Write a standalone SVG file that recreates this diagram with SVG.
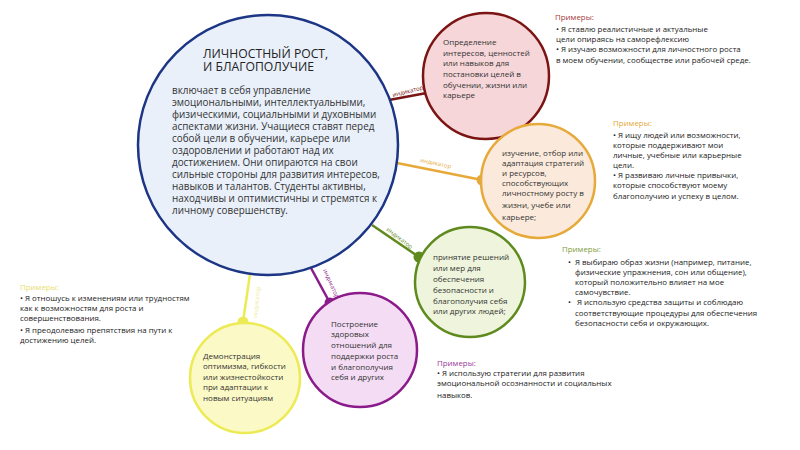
<svg xmlns="http://www.w3.org/2000/svg" width="800" height="450" viewBox="0 0 800 450">
<style>
text{font-family:"Open Sans","Noto Sans","DejaVu Sans",sans-serif;fill:#333}
.body{font-size:9.9px}
.title{font-size:12.2px;fill:#222}
.small{font-size:8px}
.ex{font-size:7.9px;fill:#222}
.ind{font-size:6px}
.conn line{stroke-width:2.5}
</style>
<rect width="800" height="450" fill="#ffffff"/>
<g id="connectors" class="conn">
  <line x1="389" y1="100" x2="432" y2="92" stroke="#7b1414"/>
  <circle cx="432" cy="92" r="5.5" fill="#7b1414"/>
  <text class="ind" style="fill:#7b1414" transform="translate(393,97) rotate(-14)">индикатор</text>
  <line x1="397" y1="163" x2="482" y2="180" stroke="#e6a93a"/>
  <circle cx="482" cy="180" r="5.5" fill="#e6a93a"/>
  <text class="ind" style="fill:#e6a93a" transform="translate(420,162) rotate(12)">индикатор</text>
  <line x1="372" y1="225" x2="419" y2="257" stroke="#5f8a1e"/>
  <circle cx="419" cy="257" r="5.5" fill="#5f8a1e"/>
  <text class="ind" style="fill:#5f8a1e" transform="translate(386,230) rotate(38)">индикатор</text>
  <line x1="311" y1="268" x2="330" y2="303" stroke="#8b1a8b"/>
  <circle cx="330" cy="303" r="5.5" fill="#8b1a8b"/>
  <text class="ind" style="fill:#8b1a8b" transform="translate(323,270) rotate(66)">индикатор</text>
  <line x1="250" y1="274" x2="243" y2="322" stroke="#eceb55"/>
  <circle cx="243" cy="322" r="5.5" fill="#eceb55"/>
  <text class="ind" style="fill:#efeda0" transform="translate(257,318) rotate(-84)">индикатор</text>
</g>
<g id="main">
  <circle cx="268" cy="145" r="130" fill="#e9f0fa" stroke="#1c3584" stroke-width="2.5"/>
  <text class="title" x="203" y="58">ЛИЧНОСТНЫЙ РОСТ,</text>
  <text class="title" x="203" y="71">И БЛАГОПОЛУЧИЕ</text>
  <text class="body" x="172" y="94">включает в себя управление</text>
  <text class="body" x="172" y="106">эмоциональными, интеллектуальными,</text>
  <text class="body" x="172" y="118">физическими, социальными и духовными</text>
  <text class="body" x="172" y="130">аспектами жизни. Учащиеся ставят перед</text>
  <text class="body" x="172" y="142">собой цели в обучении, карьере или</text>
  <text class="body" x="172" y="154">оздоровлении и работают над их</text>
  <text class="body" x="172" y="166">достижением. Они опираются на свои</text>
  <text class="body" x="172" y="178">сильные стороны для развития интересов,</text>
  <text class="body" x="172" y="190">навыков и талантов. Студенты активны,</text>
  <text class="body" x="172" y="202">находчивы и оптимистичны и стремятся к</text>
  <text class="body" x="172" y="214">личному совершенству.</text>
</g>
<g id="node-red">
  <circle cx="486" cy="76" r="63" fill="#f6d6d8" stroke="#7b1414" stroke-width="2.5"/>
  <text class="small" x="443" y="45">Определение</text>
  <text class="small" x="443" y="56">интересов, ценностей</text>
  <text class="small" x="443" y="66">или навыков для</text>
  <text class="small" x="443" y="77">постановки целей в</text>
  <text class="small" x="443" y="88">обучении, жизни или</text>
  <text class="small" x="443" y="98">карьере</text>
</g>
<g id="examples-red">
  <text class="ex" x="555" y="20" style="fill:#a23a3a">Примеры:</text>
  <text class="ex" x="556" y="32">• Я ставлю реалистичные и актуальные</text>
  <text class="ex" x="556" y="42"> цели опираясь на саморефлексию</text>
  <text class="ex" x="556" y="52">• Я изучаю возможности для личностного роста</text>
  <text class="ex" x="556" y="63">в моем обучении, сообществе или рабочей среде.</text>
</g>
<g id="node-orange">
  <circle cx="538" cy="181" r="57" fill="#fbeadb" stroke="#e6a93a" stroke-width="2.5"/>
  <text class="small" x="502" y="156">изучение, отбор или</text>
  <text class="small" x="502" y="166">адаптация стратегий</text>
  <text class="small" x="502" y="176">и ресурсов,</text>
  <text class="small" x="502" y="186">способствующих</text>
  <text class="small" x="502" y="196">личностному росту в</text>
  <text class="small" x="502" y="208">жизни, учебе или</text>
  <text class="small" x="502" y="220">карьере;</text>
</g>
<g id="examples-orange">
  <text class="ex" x="613" y="126" style="fill:#e6a93a">Примеры:</text>
  <text class="ex" x="613" y="138">• Я ищу людей или возможности,</text>
  <text class="ex" x="613" y="148">которые поддерживают мои</text>
  <text class="ex" x="613" y="158">личные, учебные или карьерные</text>
  <text class="ex" x="613" y="168">цели.</text>
  <text class="ex" x="613" y="178">• Я развиваю личные привычки,</text>
  <text class="ex" x="613" y="188">которые способствуют моему</text>
  <text class="ex" x="613" y="199">благополучию и успеху в целом.</text>
</g>
<g id="node-green">
  <circle cx="470" cy="282" r="55" fill="#eef5dc" stroke="#5f8a1e" stroke-width="2.5"/>
  <text class="small" x="433" y="260">принятие решений</text>
  <text class="small" x="433" y="271">или мер для</text>
  <text class="small" x="433" y="282">обеспечения</text>
  <text class="small" x="433" y="293">безопасности и</text>
  <text class="small" x="433" y="304">благополучия себя</text>
  <text class="small" x="433" y="314">или других людей;</text>
</g>
<g id="examples-green">
  <text class="ex" x="562" y="252" style="fill:#7d9c3c">Примеры:</text>
  <text class="ex" x="568" y="265">•</text>
  <text class="ex" x="575" y="265">Я выбираю образ жизни (например, питание,</text>
  <text class="ex" x="575" y="275">физические упражнения, сон или общение),</text>
  <text class="ex" x="575" y="285">который положительно влияет на мое</text>
  <text class="ex" x="575" y="295">самочувствие.</text>
  <text class="ex" x="568" y="305">•</text>
  <text class="ex" x="577" y="305">Я использую средства защиты и соблюдаю</text>
  <text class="ex" x="575" y="316">соответствующие процедуры для обеспечения</text>
  <text class="ex" x="575" y="326">безопасности себя и окружающих.</text>
</g>
<g id="node-purple">
  <circle cx="360" cy="350" r="57" fill="#f4dcf4" stroke="#8b1a8b" stroke-width="2.5"/>
  <text class="small" x="331" y="327">Построение</text>
  <text class="small" x="331" y="337">здоровых</text>
  <text class="small" x="331" y="348">отношений для</text>
  <text class="small" x="331" y="359">поддержки роста</text>
  <text class="small" x="331" y="370">и благополучия</text>
  <text class="small" x="331" y="380">себя и других</text>
</g>
<g id="examples-purple">
  <text class="ex" x="437" y="366" style="fill:#9b3a9b">Примеры:</text>
  <text class="ex" x="437" y="376">• Я использую стратегии для развития</text>
  <text class="ex" x="437" y="386">эмоциональной осознанности и социальных</text>
  <text class="ex" x="437" y="398">навыков.</text>
</g>
<g id="node-yellow">
  <circle cx="245" cy="378" r="55" fill="#fbf9c6" stroke="#eceb55" stroke-width="2.5"/>
  <text class="small" x="203" y="359">Демонстрация</text>
  <text class="small" x="203" y="369">оптимизма, гибкости</text>
  <text class="small" x="203" y="380">или жизнестойкости</text>
  <text class="small" x="203" y="390">при адаптации к</text>
  <text class="small" x="203" y="401">новым ситуациям</text>
</g>
<g id="examples-yellow">
  <text class="ex" x="20" y="290" style="fill:#e6e070">Примеры:</text>
  <text class="ex" x="20" y="301">•  Я отношусь к изменениям или трудностям</text>
  <text class="ex" x="20" y="311">как к возможностям для роста и</text>
  <text class="ex" x="20" y="321">совершенствования.</text>
  <text class="ex" x="20" y="333">•  Я преодолеваю препятствия на пути к</text>
  <text class="ex" x="20" y="343">достижению целей.</text>
</g>
</svg>
